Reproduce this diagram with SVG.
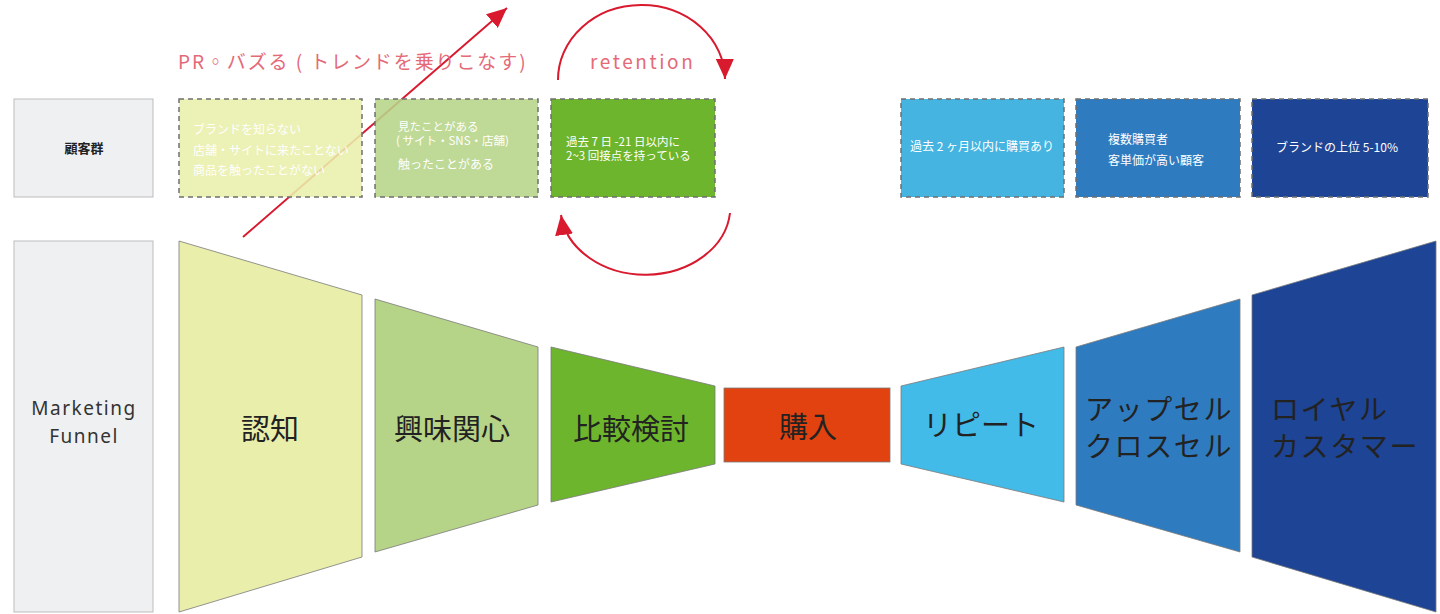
<svg xmlns="http://www.w3.org/2000/svg" width="1440" height="614" viewBox="0 0 1440 614">
<style>
.bg{fill:#ffffff}
.head{fill:#eff0f2;stroke:#bdbdbd;stroke-width:1}
.dash{stroke:#6f6f6f;stroke-width:1.5;stroke-dasharray:5 4}
.stage{stroke:#7a7a7a;stroke-width:0.8}
.small{font-family:"Noto Sans CJK JP","Noto Sans",sans-serif;font-size:12px;fill:#ffffff}
.big{font-family:"Noto Sans CJK JP","Noto Sans",sans-serif;font-size:29px;fill:#222222}
.two{font-size:28px;letter-spacing:1.6px}
.lbl{font-family:"Noto Sans","Noto Sans CJK JP",sans-serif;font-size:19px;fill:#333333;letter-spacing:1.5px}
.red{fill:none;stroke:#d8192e;stroke-width:2}
.note{font-family:"Noto Sans CJK JP","Noto Sans",sans-serif;font-size:19px;fill:#e56a78}
.c1{fill:#e9efab}.c2{fill:#b6d487}.c3{fill:#6db52c}.c4{fill:#e2420f}.c5{fill:#43bbe8}.c6{fill:#2e7bc0}.c7{fill:#1e4495}
.t4{fill:#45b4e1}
.see{fill-opacity:0.88}
</style>
<defs>
<marker id="ah" markerUnits="userSpaceOnUse" markerWidth="20" markerHeight="18" refX="20" refY="9" orient="auto">
<path d="M0,0 L20,9 L0,18 z" fill="#d8192e"/>
</marker>
</defs>
<rect class="bg" x="0" y="0" width="1440" height="614"/>

<g id="connectors">
<line class="red" x1="243" y1="237" x2="507" y2="8" marker-end="url(#ah)"/>
<path class="red" d="M558,80 A83,74 0 0 1 725,79" marker-end="url(#ah)"/>
<path class="red" d="M730,213 A85,68 0 0 1 561,215" marker-end="url(#ah)"/>
</g>

<g id="segment-header">
<rect class="head" x="14" y="99" width="139" height="98"/>
<text x="84" y="153" text-anchor="middle" style="font-family:'Noto Sans CJK JP',sans-serif;font-size:13px;font-weight:bold;fill:#222">顧客群</text>
</g>
<g id="segment-1">
<rect class="c1 dash see" x="179" y="99" width="183" height="98"/>
<text class="small" x="193" y="134">ブランドを知らない</text>
<text class="small" x="193" y="155">店舗・サイトに来たことない</text>
<text class="small" x="193" y="175">商品を触ったことがない</text>
</g>
<g id="segment-2">
<rect class="c2 dash see" x="375" y="99" width="163" height="98"/>
<text class="small" x="398" y="131" style="font-size:11.5px">見たことがある</text>
<text class="small" x="396" y="145" style="font-size:11.5px">( サイト・SNS・店舗)</text>
<text class="small" x="398" y="169">触ったことがある</text>
</g>
<g id="segment-3">
<rect class="c3 dash" x="551" y="99" width="164" height="98"/>
<text class="small" x="566" y="146" style="font-size:11.5px">過去 7 日 -21 日以内に</text>
<text class="small" x="566" y="160" style="font-size:11.5px">2~3 回接点を持っている</text>
</g>
<g id="segment-4">
<rect class="t4 dash" x="901" y="99" width="163" height="98"/>
<text class="small" x="982" y="151" text-anchor="middle">過去 2 ヶ月以内に購買あり</text>
</g>
<g id="segment-5">
<rect class="c6 dash" x="1076" y="99" width="164" height="98"/>
<text class="small" x="1108" y="144">複数購買者</text>
<text class="small" x="1108" y="165">客単価が高い顧客</text>
</g>
<g id="segment-6">
<rect class="c7 dash" x="1252" y="99" width="176" height="98"/>
<text class="small" x="1337" y="152" text-anchor="middle">ブランドの上位 5-10%</text>
</g>

<g id="funnel-header">
<rect class="head" x="14" y="241" width="139" height="371"/>
<text class="lbl" x="84" y="415" text-anchor="middle">Marketing</text>
<text class="lbl" x="84" y="443" text-anchor="middle">Funnel</text>
</g>
<g id="stage-awareness">
<polygon class="c1 stage" points="179,241 362,295 362,557 179,612"/>
<text class="big" x="270" y="440" text-anchor="middle">認知</text>
</g>
<g id="stage-interest">
<polygon class="c2 stage" points="375,299 538,347 538,505 375,552"/>
<text class="big" x="452" y="440" text-anchor="middle">興味関心</text>
</g>
<g id="stage-comparison">
<polygon class="c3 stage" points="551,347 715,386 715,464 551,502"/>
<text class="big" x="631" y="440" text-anchor="middle">比較検討</text>
</g>
<g id="stage-purchase">
<rect class="c4 stage" x="724" y="388" width="166" height="74"/>
<text class="big" x="808" y="438" text-anchor="middle">購入</text>
</g>
<g id="stage-repeat">
<polygon class="c5 stage" points="901,386 1064,347 1064,502 901,464"/>
<text class="big" x="981" y="436" text-anchor="middle">リピート</text>
</g>
<g id="stage-upsell">
<polygon class="c6 stage" points="1076,347 1240,299 1240,552 1076,505"/>
<text class="big two" x="1085" y="420">アップセル</text>
<text class="big two" x="1085" y="457">クロスセル</text>
</g>
<g id="stage-loyal">
<polygon class="c7 stage" points="1252,295 1436,241 1436,612 1252,557"/>
<text class="big two" x="1271" y="420">ロイヤル</text>
<text class="big two" x="1271" y="457">カスタマー</text>
</g>

<g id="labels">
<text class="note" x="178" y="69" style="letter-spacing:1.9px">PR◦バズる ( トレンドを乗りこなす)</text>
<text class="note" x="590" y="69" style="letter-spacing:2.6px">retention</text>
</g>
</svg>
